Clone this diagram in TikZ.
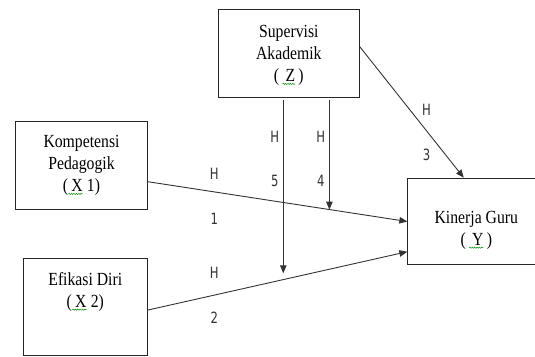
\documentclass[tikz,border=0pt]{standalone}
\usepackage{fontspec}
\usepackage{tikz}
\usetikzlibrary{positioning, arrows.meta, decorations.pathmorphing}
\newfontfamily\boxserif{Liberation Serif}[FakeStretch=0.85]
\newfontfamily\hypsans{DejaVu Sans}[FakeStretch=0.75]
\newcommand{\squig}[1]{\tikz[baseline=(w.base)]{\node[inner sep=0pt, outer sep=0pt, draw=none,
        minimum width=0pt, minimum height=0pt] (w) {#1};
    \draw[green!55!black, line width=.5pt, decorate, decoration={snake, amplitude=.6pt, segment length=2.4pt}]
    ([xshift=-3pt, yshift=-2pt]w.south west) -- ([yshift=-2pt]w.south east);}}

\begin{document}
\begin{tikzpicture}[
    x=1pt, y=-1pt, >={Triangle[length=8pt, width=6.5pt]}, node distance=44.6pt, on grid,
    var/.style={draw=black!85, line width=.9pt, align=center, inner sep=0pt,
        font=\boxserif\fontsize{18.5}{22.3}\selectfont},
    hyp/.style={inner sep=0pt, text=black!80, font=\hypsans\fontsize{15.5}{17}\selectfont},
    every edge/.style={draw=black!80, line width=.9pt}
]
    \useasboundingbox (0,0) rectangle (535,356);

    \node[var, minimum width=141pt, minimum height=87.7pt] (Z) at (288.8,53.2)
        {\rule{0pt}{16.8pt}Supervisi\\Akademik\\(\,\squig{Z}\,)};
    \node[var, minimum width=131.7pt, minimum height=87.6pt] (X1) at (81.5,165.5)
        {Kompetensi\\Pedagogik\\(\squig{X} 1)};
    \node[var, minimum width=124.7pt, minimum height=97pt] (X2) at (85.3,306.5)
        {Efikasi Diri\\(\squig{X} 2)\rule[-33pt]{0pt}{1pt}};
    \node[var, minimum width=137pt, minimum height=86.7pt] (Y) at (476.3,221.5)
        {\rule{0pt}{30pt}Kinerja Guru\\(\,\squig{Y}\,)};

    \node[hyp] (h1) at (214.3,174) {H};
    \node[hyp] (n1) [below=of h1] {1};
    \node[hyp] (h2) at (214.3,273.3) {H};
    \node[hyp] (n2) [below=of h2] {2};
    \node[hyp] (h3) at (426.6,110) {H};
    \node[hyp] (n3) [below=of h3] {3};
    \node[hyp] (h4) at (320.8,136.7) {H};
    \node[hyp] (n4) [below=of h4] {4};
    \node[hyp] (h5) at (274.7,136.7) {H};
    \node[hyp] (n5) [below=of h5] {5};

    % Pengaruh langsung ke Kinerja Guru
    \path[->] ([yshift=-16.2pt]X1.east) edge (Y.west);
    \path[->] ([yshift=-3.5pt]X2.east) edge ([yshift=-30.2pt]Y.west);
    \path[->] ([yshift=6.5pt]Z.east) edge ([xshift=56.4pt]Y.north west);

    % Moderasi oleh Supervisi Akademik
    \coordinate (m4) at (329.4,209.6);
    \coordinate (m5) at (283.3,273.3);
    \path[->] ([yshift=-2.7pt]m4 |- Z.south) edge (m4);
    \path[->] ([yshift=-2.7pt]m5 |- Z.south) edge (m5);
\end{tikzpicture}
\end{document}
